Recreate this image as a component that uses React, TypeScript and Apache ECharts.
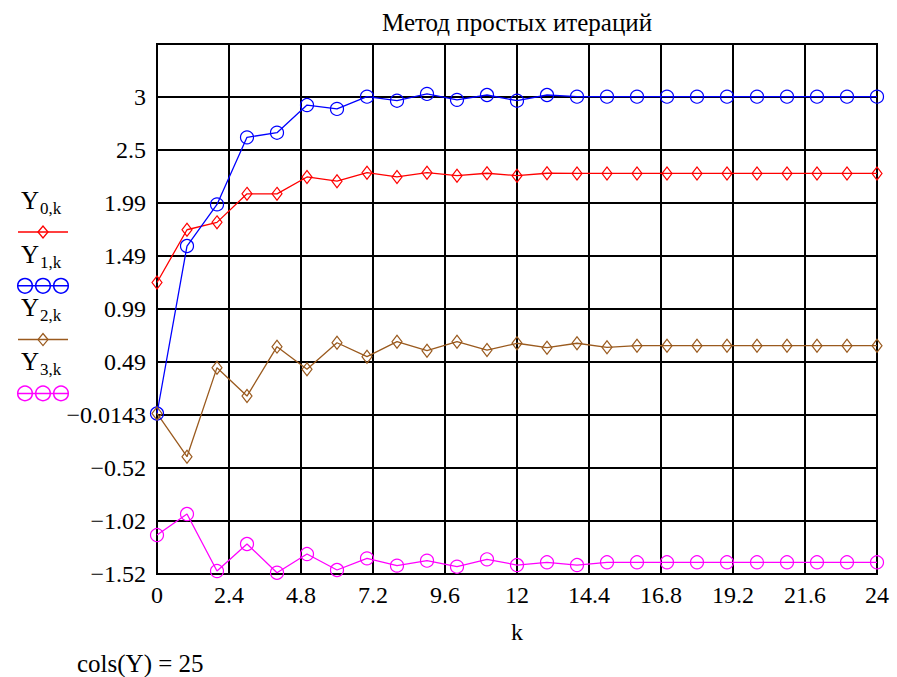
import React, { useEffect, useRef } from "react";
import * as echarts from "echarts";

const K = [0, 1, 2, 3, 4, 5, 6, 7, 8, 9, 10, 11, 12, 13, 14, 15, 16, 17, 18, 19, 20, 21, 22, 23, 24];

const Y0 = [1.24, 1.74, 1.81, 2.08, 2.08, 2.24, 2.2, 2.28, 2.24, 2.28, 2.252, 2.275, 2.252, 2.275, 2.273,
  2.273, 2.273, 2.273, 2.273, 2.273, 2.273, 2.273, 2.273, 2.273, 2.273];
const Y1 = [0, 1.586, 1.98, 2.615, 2.659, 2.921, 2.884, 3.0, 2.962, 3.026, 2.97, 3.016, 2.962, 3.016, 3.0,
  3.0, 3.0, 3.0, 3.0, 3.0, 3.0, 3.0, 3.0, 3.0, 3.0];
const Y2 = [0, -0.409, 0.434, 0.165, 0.633, 0.418, 0.67, 0.538, 0.68, 0.595, 0.68, 0.601, 0.665, 0.623, 0.665,
  0.627, 0.642, 0.642, 0.642, 0.642, 0.642, 0.642, 0.642, 0.642, 0.642];
const Y3 = [-1.151, -0.952, -1.492, -1.236, -1.508, -1.331, -1.482, -1.372, -1.441, -1.394, -1.451, -1.381, -1.435,
  -1.409, -1.435, -1.409, -1.409, -1.409, -1.409, -1.409, -1.409, -1.409, -1.409, -1.409, -1.409];

const Y_TICK_LABELS = ["\u22121.52", "\u22121.02", "\u22120.52", "\u22120.0143", "0.49", "0.99", "1.49", "1.99", "2.5", "3", ""];
const Y_MIN = -1.52;
const Y_MAX = 3.499;

const TITLE = "Метод простых итераций";
const X_NAME = "k";
const FOOTNOTE = "cols(Y) = 25";
const LEGEND_SUBS = ["0,k", "1,k", "2,k", "3,k"];

const COLORS = ["#ff0000", "#0000ff", "#9a5a1e", "#ff00ff"];
const SERIES = [Y0, Y1, Y2, Y3];
const SYMBOLS = ["diamond", "circle", "diamond", "circle"];

const FONT = "Liberation Serif";

export default function App() {
  const ref = useRef<HTMLDivElement>(null);
  useEffect(() => {
    if (!ref.current) return;
    const chart = echarts.init(ref.current, null, { renderer: "svg" });

    const series: any[] = SERIES.map((vals, si) => ({
      type: "line",
      name: "Y" + si,
      xAxisIndex: 0,
      yAxisIndex: 0,
      data: K.map((k, i) => [k, vals[i]]),
      symbol: SYMBOLS[si],
      symbolSize: SYMBOLS[si] === "diamond" ? [10, 13] : 13,
      showAllSymbol: true,
      lineStyle: { color: COLORS[si], width: 1.3 },
      itemStyle: { color: "rgba(0,0,0,0)", borderColor: COLORS[si], borderWidth: 1.2 },
      emphasis: { disabled: true },
      z: 3,
    }));

    const txt = (text: string, x: number, y: number, size: number, align: string, valign: string) => ({
      type: "text", x, y,
      style: { text, fontFamily: FONT, fontSize: size, fill: "#000", align, verticalAlign: valign },
    });

    const graphics: any[] = [
      txt(TITLE, 517, 22, 25, "center", "middle"),
      txt(X_NAME, 517, 632, 24, "center", "middle"),
      txt(FOOTNOTE, 77, 663, 25, "left", "middle"),
    ];

    LEGEND_SUBS.forEach((sub, i) => {
      const top = 188 + 53.6 * i;
      const ly = 232 + 53.8 * i;
      graphics.push(txt("Y", 21, top, 25, "left", "top"));
      graphics.push(txt(sub, 40, top + 12, 17, "left", "top"));
      const c = COLORS[i];
      graphics.push({ type: "line", shape: { x1: 18, y1: ly, x2: 68, y2: ly }, style: { stroke: c, lineWidth: 1.5 } });
      if (SYMBOLS[i] === "diamond") {
        graphics.push({
          type: "polygon",
          shape: { points: [[38, ly], [43, ly - 6], [48, ly], [43, ly + 6]] },
          style: { fill: "none", stroke: c, lineWidth: 1.3 },
        });
      } else {
        [25, 43, 61].forEach((cx) => {
          graphics.push({ type: "circle", shape: { cx, cy: ly, r: 7.3 }, style: { fill: "none", stroke: c, lineWidth: 1.5 } });
        });
      }
    });

    chart.setOption({
      animation: false,
      backgroundColor: "#fff",
      textStyle: { fontFamily: FONT },
      grid: { left: 157, top: 44, width: 720, height: 530, show: true, borderColor: "#000", borderWidth: 2, backgroundColor: "transparent", containLabel: false },
      xAxis: {
        type: "value", min: 0, max: 24, interval: 2.4,
        axisLine: { show: true, onZero: false, lineStyle: { color: "#000", width: 2 } },
        axisTick: { show: false },
        splitLine: { show: true, lineStyle: { color: "#000", width: 2 } },
        axisLabel: {
          color: "#000", fontSize: 24, fontFamily: FONT, margin: 9,
          formatter: (v: number) => String(Math.round(v * 10) / 10),
        },
      },
      yAxis: [
        { type: "value", min: Y_MIN, max: Y_MAX, show: false, position: "left", splitLine: { show: false } },
        {
          type: "value", min: 0, max: 10, interval: 1, position: "left",
          axisLine: { show: true, onZero: false, lineStyle: { color: "#000", width: 2 } },
          axisTick: { show: false },
          splitLine: { show: true, lineStyle: { color: "#000", width: 2 } },
          axisLabel: {
            color: "#000", fontSize: 24, fontFamily: FONT, margin: 11,
            formatter: (v: number) => Y_TICK_LABELS[Math.round(v)] ?? "",
          },
        },
      ],
      series,
      graphic: graphics,
    });
    return () => chart.dispose();
  }, []);
  return <div ref={ref} style={{ position: "absolute", left: 0, top: 0, width: 897, height: 677, background: "#fff" }} />;
}
